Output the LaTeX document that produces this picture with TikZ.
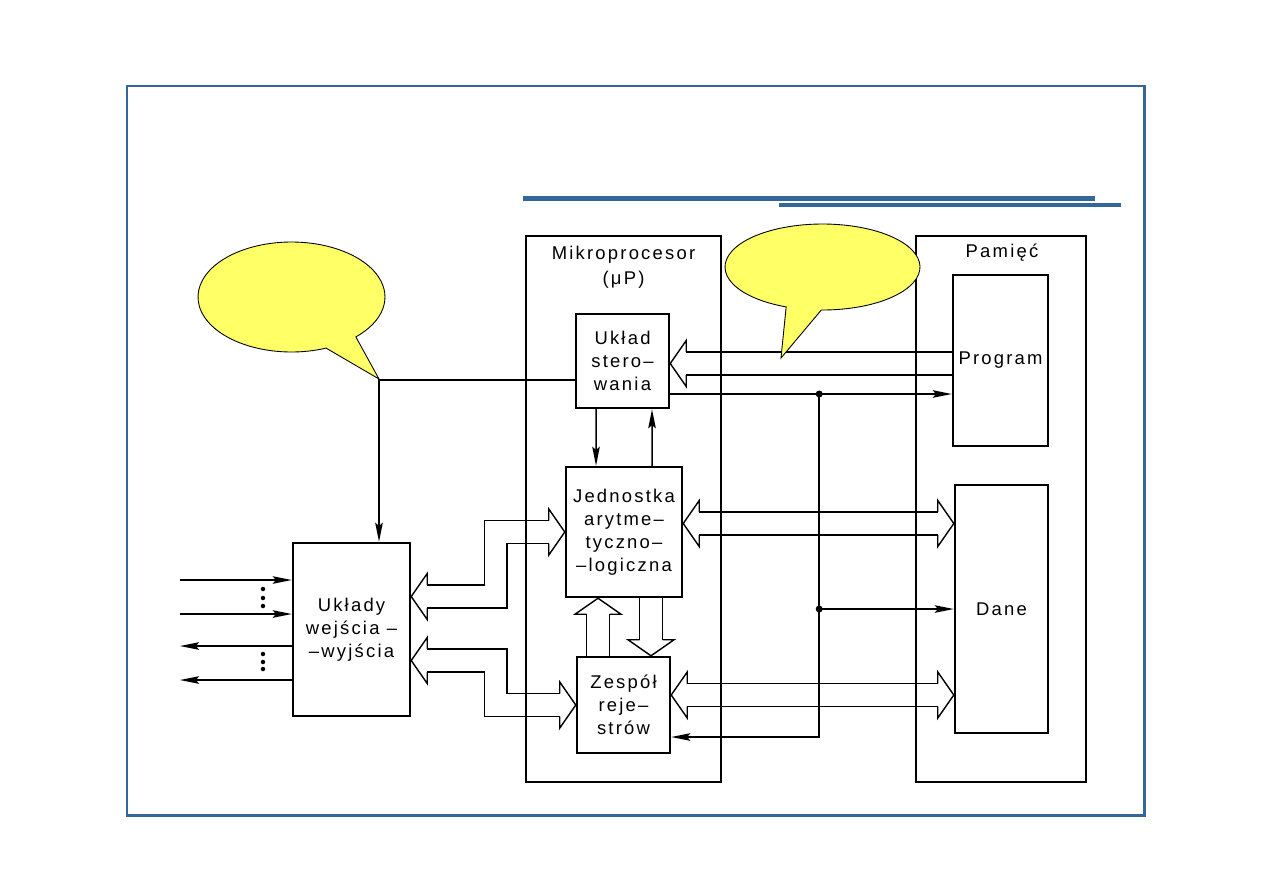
\documentclass[tikz,border=0pt]{standalone}
\usepackage{fontspec}
\setmainfont{Liberation Sans}[LetterSpace=12]
\usetikzlibrary{arrows.meta,backgrounds}
\definecolor{slideblue}{RGB}{52,102,153}
\definecolor{bubble}{RGB}{255,255,102}

\begin{document}
\begin{tikzpicture}[
    x=0.02cm, y=-0.02cm,
    frame/.style={draw, line width=0.85pt},
    block/.style={draw, line width=1.4pt, align=center, inner sep=0pt, font=\fontsize{10.5}{13}\selectfont},
    label/.style={align=center, inner sep=0pt, font=\fontsize{10.5}{14.2}\selectfont},
    wire/.style={line width=0.85pt},
    arrow/.style={wire, -{Stealth[length=0.38cm,width=0.15cm,inset=0.06cm]}},
    bus/.style={double=white, double distance=0.43cm, line width=0.8pt},
    callout/.style={draw, fill=bubble, line width=0.5pt},
    bushead/.pic={\draw[line width=0.8pt, line join=miter] (16,-11.5) -- (16,-23) -- (0,0) -- (16,23) -- (16,11.5);}
  ]
  \useasboundingbox (0,0) rectangle (1263,893);

  % slide frame
  \draw[slideblue, line width=1.7pt] (127,86) rectangle (1144,815);
  \fill[slideblue] (523,196) rectangle (1095,201);
  \fill[slideblue] (779,203) rectangle (1121,207);

  % outer blocks
  \node[frame, minimum width=3.90cm, minimum height=10.92cm] (mp) at (623.5,509) {};
  \node[label] (mptitle) at (623.5,267) {Mikroprocesor\\(μP)};
  \node[frame, minimum width=3.40cm, minimum height=10.92cm] (pam) at (1001,509) {};
  \node[label] (pamtitle) at (1002,253) {Pamięć};

  % inner blocks
  \node[block, minimum width=1.90cm, minimum height=3.42cm] (prog) at (1000.5,360.5) {Program};
  \node[block, minimum width=1.86cm, minimum height=4.96cm] (dane) at (1001.5,609) {Dane};
  \node[block, minimum width=1.86cm, minimum height=1.88cm] (ster) at (622.5,361) {Układ\\stero–\\wania};
  \node[block, minimum width=2.32cm, minimum height=2.60cm] (alu) at (624,532) {Jednostka\\arytme–\\tyczno–\\–logiczna};
  \node[block, minimum width=1.86cm, minimum height=1.92cm] (rej) at (623.5,705) {Zespół\\reje–\\strów};
  \node[block, minimum width=2.34cm, minimum height=3.46cm] (io) at (351.5,629.5) {Układy\\wejścia –\\–wyjścia};

  % buses
  \begin{scope}[on background layer]
    \coordinate (pb) at ([yshift=-0.05cm]ster.east);
    \draw[bus] ([xshift=0.32cm]pb) -- (pb -| prog.west);
    \pic at (pb) {bushead};

    \coordinate (ab) at ([yshift=0.17cm]alu.east);
    \coordinate (ad) at (ab -| dane.west);
    \draw[bus] ([xshift=0.32cm]ab) -- ([xshift=-0.32cm]ad);
    \pic at (ab) {bushead};
    \pic[rotate=180] at (ad) {bushead};

    \coordinate (rb) at ([yshift=0.2cm]rej.east);
    \coordinate (rd) at (rb -| dane.west);
    \draw[bus] ([xshift=0.32cm]rb) -- ([xshift=-0.32cm]rd);
    \pic at (rb) {bushead};
    \pic[rotate=180] at (rd) {bushead};

    \coordinate (dn) at ([xshift=0.55cm]rej.north);
    \coordinate (dt) at (dn |- alu.south);
    \draw[bus] (dt) -- ([yshift=0.32cm]dn);
    \pic[rotate=90] at (dn) {bushead};

    \coordinate (up) at ([xshift=-0.52cm]alu.south);
    \coordinate (ub) at (up |- rej.north);
    \draw[bus] (ub) -- ([yshift=-0.32cm]up);
    \pic[rotate=-90] at (up) {bushead};

    \coordinate (ia) at ([yshift=0.66cm]io.east);
    \draw[bus] ([xshift=0.32cm]ia) -- ++(68.5,0) |- ([xshift=-0.32cm]alu.west);
    \pic at (ia) {bushead};
    \pic[rotate=180] at (alu.west) {bushead};

    \coordinate (ir) at ([yshift=-0.62cm]io.east);
    \draw[bus] ([xshift=0.32cm]ir) -- ++(68.5,0) |- ([xshift=-0.32cm]rej.west);
    \pic at (ir) {bushead};
    \pic[rotate=180] at (rej.west) {bushead};
  \end{scope}

  % control lines
  \coordinate (cs) at ([yshift=-0.38cm]ster.west);
  \draw[arrow] (cs) -| ([xshift=0.55cm]io.north);
  \draw[arrow] ([xshift=-0.53cm]ster.south) -- ([xshift=-0.56cm]alu.north);
  \draw[arrow] ([xshift=0.56cm]alu.north) -- ([xshift=0.59cm]ster.south);

  \coordinate (so) at ([yshift=-0.66cm]ster.east);
  \draw[arrow] (so) -- (so -| prog.west);
  \coordinate (jt) at ([xshift=2.98cm]so);
  \coordinate (jm) at (jt |- dane.west);
  \coordinate (ro) at ([yshift=-0.64cm]rej.east);
  \draw[wire] (jt) -- (jm);
  \draw[arrow] (jm) -- (dane.west);
  \draw[arrow] (jm) |- (ro);
  \fill (jt) circle[radius=0.07cm];
  \fill (jm) circle[radius=0.07cm];

  % external lines of io
  \coordinate (in1) at (180,580);
  \coordinate (in2) at (180,614);
  \coordinate (out1) at (180,646);
  \coordinate (out2) at (180,680);
  \draw[arrow] (in1) -- (in1 -| io.west);
  \draw[arrow] (in2) -- (in2 -| io.west);
  \draw[arrow] (out1 -| io.west) -- (out1);
  \draw[arrow] (out2 -| io.west) -- (out2);
  \foreach \y in {589,598,606,654,662,669}
    \fill (263,\y) circle[radius=0.045cm];

  % callouts
  \coordinate (lc) at (291.5,297);
  \coordinate (ltip) at (379,379);
  \draw[callout] ([shift={(-68.3:1.87cm and 1.10cm)}]lc) arc[start angle=-68.3, end angle=-406.5, x radius=1.87cm, y radius=1.10cm] -- (ltip) -- cycle;
  \coordinate (rc) at (822.5,267);
  \coordinate (rtip) at (781,358);
  \draw[callout] ([shift={(-111.9:1.95cm and 0.86cm)}]rc) arc[start angle=-111.9, end angle=-450.7, x radius=1.95cm, y radius=0.86cm] -- (rtip) -- cycle;
\end{tikzpicture}
\end{document}
